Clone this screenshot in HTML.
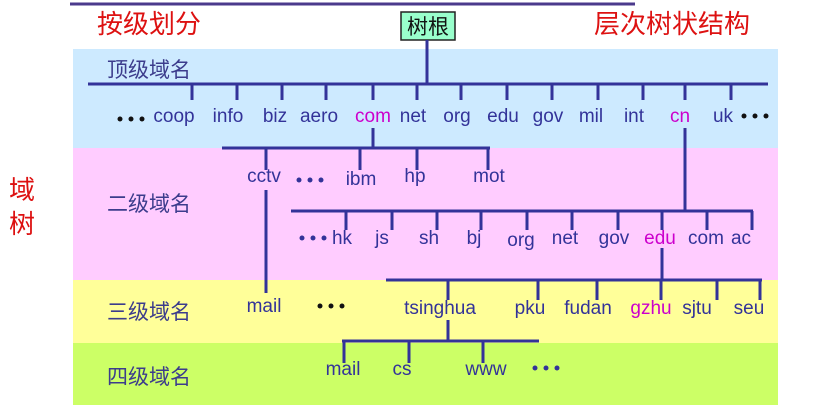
<!DOCTYPE html>
<html><head><meta charset="utf-8"><style>
html,body{margin:0;padding:0;background:#fff;width:825px;height:409px;overflow:hidden}
svg{display:block}
text{font-family:"Liberation Sans","Noto Sans CJK SC",sans-serif}
</style></head><body>
<svg width="825" height="409" viewBox="0 0 825 409" xmlns="http://www.w3.org/2000/svg">
<rect x="73" y="49" width="705" height="99" fill="#cdeaff"/>
<rect x="73" y="148" width="705" height="132" fill="#ffccff"/>
<rect x="73" y="280" width="705" height="63" fill="#ffff99"/>
<rect x="73" y="343" width="705" height="62" fill="#ccff66"/>
<line x1="70" y1="4" x2="635" y2="4" stroke="#4b3a8c" stroke-width="3"/>
<g fill="#dd1111" font-size="26">
<text x="97" y="33">按级划分</text>
<text x="594" y="33">层次树状结构</text>
<text x="9" y="199">域</text>
<text x="9" y="233">树</text>
</g>
<rect x="401" y="12" width="54" height="28" fill="#99ffcc" stroke="#222" stroke-width="1.5"/>
<text x="428" y="34" font-size="21" text-anchor="middle" fill="#111">树根</text>
<g fill="#3c3c8c" font-size="21">
<text x="107" y="77">顶级域名</text>
<text x="107" y="211">二级域名</text>
<text x="107" y="319">三级域名</text>
<text x="107" y="384">四级域名</text>
</g>
<g stroke="#333399" stroke-width="3" fill="none">
<path d="M427 40V84M88 84H768"/>
<path d="M192 84V100M237 84V100M282 84V100M326 84V100M373 84V100M417 84V100M461 84V100M507 84V100M552 84V100M598 84V100M643 84V100M685 84V100M731 84V100"/>
<path d="M373 128V148M222 148H490M266 148V170M360 148V170M417 148V170M488 148V170M266 190V293"/>
<path d="M685 128V211M291 211H753M346 211V230M392 211V230M437 211V230M481 211V230M527 211V230M572 211V230M618 211V230M662 211V230M707 211V230M752 211V230"/>
<path d="M662 248V280M386 280H762M448 280V300M538 280V300M597 280V300M661 280V300M717 280V300M760 280V300"/>
<path d="M448 320V341M342 341H539M344 341V363M409 341V363M483 341V363"/>
</g>
<g fill="#333399" font-size="19" text-anchor="middle">
<text x="174" y="122">coop</text><text x="228" y="122">info</text><text x="275" y="122">biz</text>
<text x="319" y="122">aero</text><text x="373" y="122" fill="#cc00cc">com</text><text x="413" y="122">net</text>
<text x="457" y="122">org</text><text x="503" y="122">edu</text><text x="548" y="122">gov</text>
<text x="591" y="122">mil</text><text x="634" y="122">int</text><text x="680" y="122" fill="#cc00cc">cn</text>
<text x="723" y="122">uk</text>
<text x="264" y="182">cctv</text><text x="361" y="185">ibm</text><text x="415" y="182">hp</text><text x="489" y="182">mot</text>
<text x="342" y="244">hk</text><text x="382" y="244">js</text><text x="429" y="244">sh</text><text x="474" y="244">bj</text>
<text x="521" y="246">org</text><text x="565" y="244">net</text><text x="614" y="244">gov</text>
<text x="660" y="244" fill="#cc00cc">edu</text><text x="706" y="244">com</text><text x="741" y="244">ac</text>
<text x="264" y="312">mail</text><text x="440" y="314">tsinghua</text><text x="530" y="314">pku</text>
<text x="588" y="314">fudan</text><text x="651" y="314" fill="#cc00cc">gzhu</text><text x="697" y="314">sjtu</text>
<text x="749" y="314">seu</text>
<text x="343" y="375">mail</text><text x="402" y="375">cs</text><text x="486" y="375">www</text>
</g>
<g fill="#111">
<circle cx="120" cy="119" r="2.5"/><circle cx="131" cy="119" r="2.5"/><circle cx="142" cy="119" r="2.5"/>
<circle cx="744" cy="116" r="2.5"/><circle cx="755" cy="116" r="2.5"/><circle cx="766" cy="116" r="2.5"/>
<circle cx="320" cy="306" r="2.5"/><circle cx="331" cy="306" r="2.5"/><circle cx="342" cy="306" r="2.5"/>
</g>
<g fill="#333399">
<circle cx="299" cy="180" r="2.5"/><circle cx="310" cy="180" r="2.5"/><circle cx="321" cy="180" r="2.5"/>
<circle cx="302" cy="238" r="2.5"/><circle cx="313" cy="238" r="2.5"/><circle cx="324" cy="238" r="2.5"/>
<circle cx="535" cy="368" r="2.5"/><circle cx="546" cy="368" r="2.5"/><circle cx="557" cy="368" r="2.5"/>
</g>
</svg>
</body></html>
